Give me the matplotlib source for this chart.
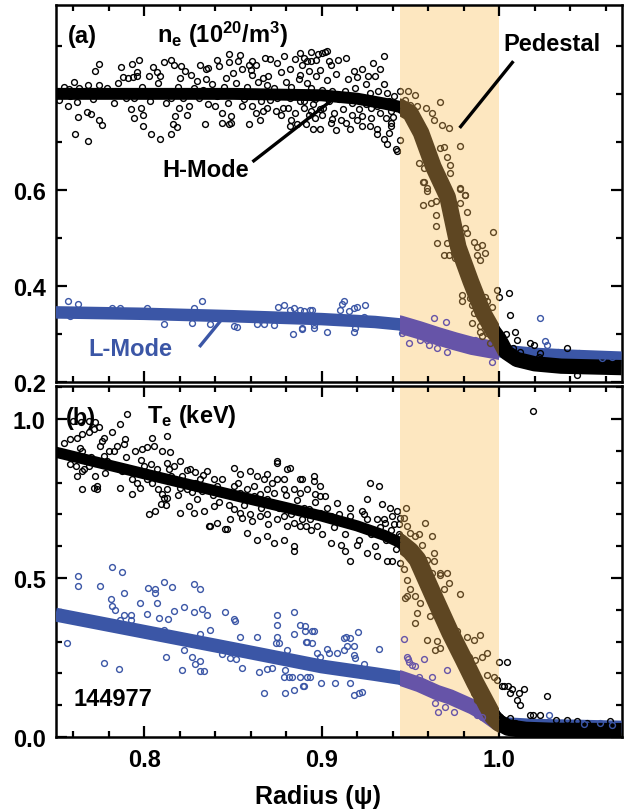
import matplotlib
matplotlib.use("Agg")
import matplotlib.pyplot as plt
from matplotlib.patches import Rectangle
from matplotlib.ticker import FixedLocator, MultipleLocator, FormatStrFormatter
import numpy as np

plt.rcParams['font.family'] = ['Liberation Sans', 'DejaVu Sans']
plt.rcParams['font.weight'] = 'bold'
plt.rcParams['font.size'] = 17
plt.rcParams['mathtext.fontset'] = 'custom'
plt.rcParams['mathtext.rm'] = 'Liberation Sans:bold'
plt.rcParams['mathtext.it'] = 'Liberation Sans:bold'
plt.rcParams['mathtext.bf'] = 'Liberation Sans:bold'

BLACK, BLUE = '#000000', '#3b56a6'
BROWN, PURPLE = '#5e4622', '#6654a8'
BAND = '#fde7c0'
PED_LO, PED_HI = 0.944, 1.0
XLIM = (0.75, 1.069)

# ---- fitted profiles (thick curves) ----
ne_h_fit_x = [0.75, 0.80, 0.85, 0.90, 0.92, 0.935, 0.944, 0.950, 0.956, 0.963, 0.971,
              0.977, 0.984, 0.991, 0.997, 1.000, 1.004, 1.010, 1.020, 1.035, 1.069]
ne_h_fit_y = [0.800, 0.800, 0.800, 0.797, 0.790, 0.780, 0.773, 0.760, 0.719, 0.648, 0.585,
              0.481, 0.410, 0.344, 0.305, 0.290, 0.262, 0.247, 0.238, 0.233, 0.230]

ne_l_fit_x = [0.75, 0.80, 0.85, 0.90, 0.93, 0.944, 0.955, 0.965, 0.975, 0.985, 1.000, 1.02, 1.04, 1.069]
ne_l_fit_y = [0.345, 0.342, 0.337, 0.331, 0.325, 0.320, 0.308, 0.296, 0.285, 0.275, 0.265, 0.258, 0.254, 0.250]

te_h_fit_x = [0.75, 0.80, 0.85, 0.90, 0.92, 0.935, 0.944, 0.950, 0.954, 0.963, 0.9725,
              0.980, 0.9866, 0.9968, 1.000, 1.005, 1.015, 1.030, 1.069]
te_h_fit_y = [0.896, 0.828, 0.761, 0.695, 0.664, 0.635, 0.612, 0.585, 0.558, 0.445, 0.328,
              0.245, 0.170, 0.063, 0.045, 0.030, 0.022, 0.019, 0.018]

te_l_fit_x = [0.75, 0.80, 0.85, 0.90, 0.93, 0.944, 0.955, 0.965, 0.9725, 0.985, 0.991, 0.999, 1.019, 1.069]
te_l_fit_y = [0.385, 0.331, 0.277, 0.222, 0.198, 0.186, 0.165, 0.140, 0.126, 0.095, 0.076, 0.044, 0.038, 0.032]

# ---- measured points (hollow circles) ----
ne_h_pts = [
    (0.7546, 0.815), (0.7575, 0.810), (0.7630, 0.812), (0.7685, 0.818), (0.7744, 0.818),
    (0.7602, 0.824), (0.7744, 0.862), (0.7725, 0.847), (0.7520, 0.788), (0.7570, 0.775),
    (0.7620, 0.783), (0.7625, 0.752), (0.7680, 0.762), (0.7700, 0.758), (0.7745, 0.745),
    (0.7760, 0.735), (0.7610, 0.717), (0.7685, 0.702), (0.7870, 0.855), (0.7930, 0.862),
    (0.7960, 0.845), (0.7970, 0.870), (0.7880, 0.835), (0.7910, 0.832), (0.7935, 0.835),
    (0.7960, 0.838), (0.7900, 0.792), (0.7940, 0.792), (0.7925, 0.768), (0.7980, 0.771),
    (0.7995, 0.757), (0.7940, 0.750), (0.7995, 0.733), (0.8040, 0.716), (0.8090, 0.705),
    (0.8150, 0.716), (0.8050, 0.855), (0.8070, 0.845), (0.8090, 0.838), (0.8025, 0.838),
    (0.8110, 0.866), (0.8150, 0.870), (0.8170, 0.861), (0.8210, 0.858), (0.8230, 0.847),
    (0.8200, 0.834), (0.8265, 0.840), (0.8300, 0.826), (0.8350, 0.830), (0.8350, 0.851),
    (0.8315, 0.860), (0.8360, 0.854), (0.8420, 0.858), (0.8150, 0.792), (0.8195, 0.771),
    (0.8250, 0.775), (0.8310, 0.792), (0.8360, 0.778), (0.8175, 0.754), (0.8240, 0.757),
    (0.8165, 0.737), (0.8185, 0.730), (0.8340, 0.737), (0.8400, 0.774), (0.8440, 0.760),
    (0.8490, 0.753), (0.8480, 0.737), (0.8440, 0.740), (0.8490, 0.740), (0.8480, 0.884),
    (0.8540, 0.880), (0.8480, 0.866), (0.8550, 0.852), (0.8590, 0.861), (0.8500, 0.844),
    (0.8460, 0.833), (0.8590, 0.737), (0.8630, 0.760), (0.8670, 0.764), (0.8550, 0.774),
    (0.8610, 0.774), (0.8610, 0.869), (0.8630, 0.861), (0.8680, 0.875), (0.8710, 0.872),
    (0.8750, 0.865), (0.8610, 0.840), (0.8670, 0.833), (0.8690, 0.819), (0.8710, 0.788),
    (0.8750, 0.792), (0.8690, 0.771), (0.8740, 0.764), (0.8780, 0.771), (0.8810, 0.771),
    (0.8820, 0.733), (0.8860, 0.737), (0.8910, 0.737), (0.8790, 0.878), (0.8850, 0.872),
    (0.8900, 0.875), (0.8890, 0.861), (0.8940, 0.868), (0.8980, 0.882), (0.9020, 0.888),
    (0.8820, 0.851), (0.8880, 0.840), (0.8930, 0.847), (0.8970, 0.837), (0.8820, 0.792),
    (0.8880, 0.785), (0.8900, 0.771), (0.8940, 0.764), (0.8990, 0.768), (0.8990, 0.726),
    (0.8930, 0.757), (0.8960, 0.750), (0.9000, 0.757), (0.8880, 0.885), (0.8940, 0.887),
    (0.9000, 0.885), (0.9030, 0.890), (0.8920, 0.868), (0.8970, 0.871), (0.9050, 0.861),
    (0.9090, 0.871), (0.9140, 0.875), (0.9180, 0.847), (0.9230, 0.851), (0.9260, 0.837),
    (0.9290, 0.865), (0.9330, 0.851), (0.9350, 0.878), (0.8940, 0.813), (0.9000, 0.809),
    (0.9060, 0.806), (0.9130, 0.806), (0.9190, 0.813), (0.8900, 0.785), (0.8950, 0.778),
    (0.9010, 0.771), (0.9070, 0.761), (0.9120, 0.768), (0.9170, 0.757), (0.9230, 0.754),
    (0.9280, 0.771), (0.8950, 0.726), (0.9050, 0.740), (0.9060, 0.747), (0.9160, 0.726),
    (0.9230, 0.733), (0.9270, 0.733), (0.9310, 0.726), (0.9310, 0.716), (0.9350, 0.706),
    (0.9380, 0.719), (0.9390, 0.733), (0.9370, 0.695), (0.9420, 0.685), (0.9390, 0.764),
    (0.9420, 0.771), (0.9360, 0.750), (0.9390, 0.740), (0.9320, 0.806), (0.9370, 0.802),
    (0.9270, 0.802), (0.9250, 0.778), (0.9270, 0.785), (0.9310, 0.774),
    (0.7580, 0.795), (0.7650, 0.805), (0.7710, 0.790), (0.7790, 0.812), (0.7830, 0.780),
    (0.7850, 0.822), (0.7990, 0.815), (0.8030, 0.785), (0.8080, 0.822), (0.8120, 0.780),
    (0.8190, 0.815), (0.8220, 0.792), (0.8280, 0.812), (0.8330, 0.808), (0.8380, 0.820),
    (0.8410, 0.795), (0.8450, 0.815), (0.8470, 0.780), (0.8520, 0.822), (0.8560, 0.790),
    (0.8580, 0.815), (0.8640, 0.825), (0.8660, 0.785), (0.8700, 0.838), (0.8730, 0.812),
    (0.8770, 0.845), (0.8800, 0.825), (0.8830, 0.815), (0.8850, 0.760), (0.8870, 0.830),
    (0.8920, 0.822), (0.8960, 0.790), (0.8990, 0.850), (0.9030, 0.828), (0.9040, 0.785),
    (0.9080, 0.842), (0.9100, 0.790), (0.9110, 0.745), (0.9150, 0.830), (0.9170, 0.780),
    (0.9200, 0.835), (0.9210, 0.768), (0.9250, 0.820), (0.9280, 0.750), (0.9300, 0.838),
    (0.9330, 0.760), (0.9350, 0.820), (0.9380, 0.785), (0.9400, 0.752), (0.9410, 0.795),
    (0.8410, 0.870), (0.8530, 0.868), (0.8600, 0.850), (0.8650, 0.745), (0.8770, 0.755),
    (0.8830, 0.745), (0.9080, 0.725), (0.9140, 0.740), (0.9200, 0.745), (0.9040, 0.868),
    # pedestal
    (0.9444, 0.805), (0.9485, 0.805), (0.9528, 0.798), (0.9472, 0.788), (0.9500, 0.777),
    (0.9538, 0.775), (0.9590, 0.770), (0.9622, 0.761), (0.9631, 0.746), (0.9669, 0.784),
    (0.9678, 0.735), (0.9716, 0.728), (0.9782, 0.692), (0.9690, 0.690), (0.9669, 0.687),
    (0.9547, 0.656), (0.9575, 0.645), (0.9706, 0.669), (0.9725, 0.652), (0.9725, 0.635),
    (0.9575, 0.617), (0.9592, 0.598), (0.9778, 0.602), (0.9806, 0.590), (0.9444, 0.704),
    (0.9427, 0.680), (0.9573, 0.617), (0.9592, 0.604), (0.9570, 0.569), (0.9617, 0.572),
    (0.9645, 0.576), (0.9782, 0.604), (0.9810, 0.590), (0.9782, 0.572), (0.9820, 0.555),
    (0.9645, 0.548), (0.9645, 0.524), (0.9648, 0.489), (0.9706, 0.489), (0.9687, 0.465),
    (0.9716, 0.465), (0.9744, 0.468), (0.9754, 0.458), (0.9810, 0.520), (0.9820, 0.510),
    (0.9856, 0.492), (0.9875, 0.482), (0.9903, 0.485), (0.9875, 0.465), (0.9894, 0.454),
    (0.9922, 0.468), (0.9968, 0.513), (0.9791, 0.381), (0.9791, 0.368), (0.9838, 0.375),
    (0.9848, 0.360), (0.9857, 0.343), (0.9923, 0.378), (0.9932, 0.368), (0.9960, 0.357),
    (0.9988, 0.392), (0.9997, 0.378), (0.9932, 0.302), (0.9950, 0.281), (0.9848, 0.323),
    (0.9894, 0.316), (0.9894, 0.305), (0.9903, 0.295), (0.9530, 0.735), (0.9600, 0.690),
    (0.9660, 0.610), (0.9720, 0.560), (0.9760, 0.500), (0.9790, 0.440), (0.9830, 0.420),
    # edge
    (1.0054, 0.385), (1.0063, 0.340), (1.0092, 0.305), (1.0101, 0.288), (1.0176, 0.281),
    (1.0195, 0.277), (1.0383, 0.270), (1.0439, 0.215), (1.0232, 0.260), (1.0223, 0.253),
    (1.0040, 0.300), (1.0080, 0.270), (1.0120, 0.262),
]

ne_l_pts = [
    (0.7572, 0.369), (0.7627, 0.362), (0.8326, 0.369), (0.8279, 0.354), (0.8110, 0.321),
    (0.8373, 0.321), (0.8505, 0.316), (0.8523, 0.314), (0.8753, 0.356), (0.8786, 0.360),
    (0.8824, 0.350), (0.8843, 0.354), (0.8880, 0.350), (0.8946, 0.350), (0.8839, 0.300),
    (0.8890, 0.310), (0.8955, 0.319), (0.7866, 0.354), (0.7819, 0.354), (0.8016, 0.354),
    (0.8270, 0.323), (0.8636, 0.321), (0.8674, 0.321), (0.8730, 0.319), (0.7520, 0.344),
    (0.7580, 0.337), (0.8899, 0.348), (0.8936, 0.350), (0.8890, 0.312), (0.8955, 0.312),
    (0.9031, 0.305), (0.9115, 0.362), (0.9124, 0.368), (0.9105, 0.350), (0.9153, 0.347),
    (0.9181, 0.354), (0.9200, 0.357), (0.9243, 0.360), (0.9190, 0.312), (0.9181, 0.305),
    (0.9237, 0.335),
    (0.9453, 0.302), (0.9491, 0.281), (0.9557, 0.288), (0.9603, 0.277), (0.9594, 0.288),
    (0.9631, 0.334), (0.9703, 0.324), (0.9707, 0.263), (0.9650, 0.270), (0.9866, 0.288),
    (0.9960, 0.242),
    (1.0232, 0.334), (1.0260, 0.286), (1.0269, 0.277), (1.0448, 0.260), (1.0580, 0.250),
    (1.0636, 0.253), (1.0330, 0.262),
]

te_h_pts = [
    (0.7547, 0.926), (0.7584, 0.937), (0.7622, 0.942), (0.7650, 0.953), (0.7688, 0.958),
    (0.7716, 0.968), (0.7744, 0.974), (0.7641, 0.990), (0.7688, 0.995), (0.7725, 0.990),
    (0.7600, 0.993), (0.7566, 0.890), (0.7622, 0.879), (0.7650, 0.900), (0.7660, 0.842),
    (0.7688, 0.853), (0.7725, 0.863), (0.7622, 0.821), (0.7650, 0.837), (0.7613, 0.853),
    (0.7725, 0.821), (0.7735, 0.790), (0.7716, 0.784), (0.7650, 0.779), (0.7735, 0.779),
    (0.7763, 0.932), (0.7772, 0.942), (0.7819, 0.958), (0.7866, 0.984), (0.7904, 1.016),
    (0.7894, 0.937), (0.7885, 0.921), (0.7847, 0.916), (0.7800, 0.900), (0.7753, 0.916),
    (0.7772, 0.884), (0.7791, 0.869), (0.7838, 0.853), (0.7866, 0.842), (0.7904, 0.847),
    (0.7941, 0.832), (0.7932, 0.811), (0.7960, 0.800), (0.7866, 0.784), (0.7875, 0.837),
    (0.7932, 0.763), (0.7979, 0.784), (0.8016, 0.811), (0.8045, 0.800), (0.7950, 0.900),
    (0.7988, 0.905), (0.8016, 0.911), (0.8045, 0.942), (0.8054, 0.916), (0.8101, 0.900),
    (0.8129, 0.947), (0.8148, 0.895), (0.7997, 0.853), (0.8073, 0.842), (0.8073, 0.816),
    (0.8092, 0.811), (0.8129, 0.863), (0.8138, 0.842), (0.8026, 0.700), (0.8063, 0.711),
    (0.8092, 0.732), (0.8110, 0.753), (0.8129, 0.753), (0.8101, 0.763), (0.8129, 0.779),
    (0.8166, 0.853), (0.8204, 0.869), (0.8214, 0.821), (0.8260, 0.842), (0.8289, 0.832),
    (0.8317, 0.811), (0.8354, 0.837), (0.8392, 0.811), (0.8204, 0.784), (0.8242, 0.779),
    (0.8289, 0.800), (0.8326, 0.774), (0.8364, 0.779), (0.8411, 0.790), (0.8204, 0.706),
    (0.8251, 0.726), (0.8279, 0.706), (0.8336, 0.711), (0.8392, 0.726), (0.8373, 0.663),
    (0.8411, 0.674), (0.8458, 0.653), (0.8486, 0.685), (0.8505, 0.847), (0.8542, 0.826),
    (0.8598, 0.837), (0.8636, 0.821), (0.8674, 0.811), (0.8692, 0.826), (0.8749, 0.863),
    (0.8805, 0.842), (0.8749, 0.811), (0.8786, 0.811), (0.8505, 0.790), (0.8542, 0.768),
    (0.8580, 0.779), (0.8617, 0.758), (0.8655, 0.763), (0.8692, 0.779), (0.8730, 0.768),
    (0.8786, 0.779), (0.8843, 0.779), (0.8880, 0.768), (0.8918, 0.779), (0.8955, 0.805),
    (0.8505, 0.716), (0.8542, 0.706), (0.8598, 0.700), (0.8655, 0.695), (0.8692, 0.700),
    (0.8749, 0.685), (0.8786, 0.695), (0.8805, 0.663), (0.8843, 0.674), (0.8880, 0.663),
    (0.8937, 0.685), (0.8974, 0.663), (0.8580, 0.642), (0.8636, 0.621), (0.8692, 0.632),
    (0.8730, 0.611), (0.8786, 0.621), (0.8843, 0.600), (0.8843, 0.585), (0.8467, 0.653),
    (0.8364, 0.663), (0.8749, 0.869), (0.8824, 0.847), (0.8880, 0.811), (0.8955, 0.821),
    (0.8890, 0.811), (0.8993, 0.789), (0.9021, 0.758), (0.8990, 0.758), (0.8960, 0.763),
    (0.8930, 0.716), (0.8890, 0.685), (0.8910, 0.663), (0.8993, 0.706), (0.9050, 0.695),
    (0.9087, 0.737), (0.9162, 0.721), (0.9162, 0.695), (0.9228, 0.711), (0.9256, 0.748),
    (0.9275, 0.800), (0.9322, 0.789), (0.9340, 0.732), (0.9387, 0.721), (0.9425, 0.711),
    (0.9397, 0.695), (0.9350, 0.685), (0.9312, 0.685), (0.9256, 0.685), (0.9050, 0.611),
    (0.9162, 0.553), (0.9110, 0.605), (0.9130, 0.585), (0.9200, 0.605), (0.9256, 0.579),
    (0.9312, 0.569), (0.9368, 0.553), (0.9397, 0.553), (0.9359, 0.674), (0.9406, 0.669),
    (0.9434, 0.669), (0.9425, 0.621), (0.9434, 0.637),
    (0.7580, 0.860), (0.7640, 0.910), (0.7700, 0.880), (0.7780, 0.830), (0.7830, 0.900),
    (0.7900, 0.880), (0.7980, 0.870), (0.8040, 0.860), (0.8080, 0.780), (0.8150, 0.820),
    (0.8190, 0.760), (0.8240, 0.840), (0.8300, 0.750), (0.8330, 0.825), (0.8390, 0.760),
    (0.8420, 0.740), (0.8440, 0.810), (0.8480, 0.730), (0.8530, 0.800), (0.8560, 0.730),
    (0.8620, 0.790), (0.8660, 0.720), (0.8690, 0.750), (0.8720, 0.800), (0.8760, 0.720),
    (0.8800, 0.760), (0.8830, 0.700), (0.8860, 0.745), (0.8900, 0.720), (0.8940, 0.650),
    (0.8960, 0.740), (0.9000, 0.640), (0.9030, 0.720), (0.9070, 0.660), (0.9100, 0.700),
    (0.9130, 0.640), (0.9180, 0.670), (0.9210, 0.620), (0.9240, 0.700), (0.9280, 0.640),
    (0.9300, 0.600), (0.9330, 0.660), (0.9360, 0.620), (0.9390, 0.650), (0.9420, 0.590),
    (0.9440, 0.690), (0.8610, 0.680), (0.8700, 0.670), (0.8550, 0.690), (0.8270, 0.770),
    (0.8120, 0.730),
    # pedestal
    (0.9478, 0.721), (0.9463, 0.690), (0.9481, 0.663), (0.9500, 0.642), (0.9528, 0.632),
    (0.9547, 0.637), (0.9584, 0.674), (0.9566, 0.605), (0.9622, 0.632), (0.9631, 0.579),
    (0.9594, 0.558), (0.9631, 0.553), (0.9669, 0.516), (0.9706, 0.516), (0.9444, 0.632),
    (0.9444, 0.548), (0.9463, 0.527), (0.9481, 0.495), (0.9500, 0.464), (0.9528, 0.443),
    (0.9556, 0.422), (0.9584, 0.474), (0.9622, 0.516), (0.9669, 0.511), (0.9716, 0.485),
    (0.9688, 0.464), (0.9778, 0.450), (0.9631, 0.422), (0.9481, 0.443), (0.9470, 0.437),
    (0.9538, 0.390), (0.9528, 0.359), (0.9613, 0.380), (0.9594, 0.306), (0.9650, 0.301),
    (0.9669, 0.280), (0.9641, 0.274), (0.9706, 0.327), (0.9763, 0.332), (0.9782, 0.295),
    (0.9819, 0.316), (0.9857, 0.306), (0.9894, 0.322), (0.9829, 0.253), (0.9866, 0.243),
    (0.9904, 0.253), (0.9932, 0.264), (0.9819, 0.222), (0.9857, 0.201), (0.9885, 0.169),
    (0.9932, 0.195), (0.9969, 0.190), (0.9997, 0.237), (0.9988, 0.180), (0.9857, 0.138),
    (0.9875, 0.117), (0.9904, 0.096), (0.9932, 0.074), (0.9950, 0.064),
    # edge
    (1.0006, 0.064), (1.0016, 0.159), (1.0044, 0.237), (1.0030, 0.160), (1.0050, 0.160),
    (1.0072, 0.150), (1.0063, 0.138), (1.0110, 0.138), (1.0138, 0.150), (1.0100, 0.117),
    (1.0120, 0.100), (1.0190, 0.070), (1.0232, 0.070), (1.0176, 0.070), (1.0269, 0.128),
    (1.0320, 0.055), (1.0383, 0.055), (1.0439, 0.050), (1.0627, 0.050), (1.0495, 0.045),
    (1.0063, 0.060), (1.0090, 0.045), (1.0190, 1.025),
]

te_l_pts = [
    (0.7628, 0.506), (0.7628, 0.474), (0.7566, 0.296), (0.7753, 0.474), (0.7819, 0.535),
    (0.7875, 0.520), (0.7885, 0.453), (0.7810, 0.434), (0.7819, 0.411), (0.7838, 0.401),
    (0.7885, 0.385), (0.7925, 0.385), (0.7866, 0.369), (0.7925, 0.369), (0.7772, 0.232),
    (0.7857, 0.214), (0.7979, 0.422), (0.8020, 0.469), (0.8063, 0.464), (0.8063, 0.453),
    (0.8073, 0.422), (0.8110, 0.487), (0.8157, 0.472), (0.8016, 0.387), (0.8086, 0.374),
    (0.8135, 0.371), (0.8114, 0.338), (0.8125, 0.253), (0.8170, 0.395), (0.8222, 0.409),
    (0.8279, 0.482), (0.8317, 0.464), (0.8279, 0.393), (0.8326, 0.404), (0.8354, 0.385),
    (0.8317, 0.325), (0.8373, 0.338), (0.8222, 0.274), (0.8270, 0.253), (0.8289, 0.229),
    (0.8317, 0.240), (0.8317, 0.208), (0.8336, 0.208), (0.8214, 0.211), (0.8458, 0.393),
    (0.8505, 0.371), (0.8514, 0.366), (0.8542, 0.314), (0.8439, 0.262), (0.8486, 0.248),
    (0.8518, 0.245), (0.8552, 0.216), (0.8636, 0.316), (0.8645, 0.206), (0.8674, 0.138),
    (0.8692, 0.214), (0.8720, 0.216), (0.8749, 0.385), (0.8749, 0.353), (0.8749, 0.316),
    (0.8740, 0.295), (0.8758, 0.295), (0.8805, 0.274), (0.8796, 0.211), (0.8792, 0.138),
    (0.8843, 0.393), (0.8843, 0.325), (0.8843, 0.148), (0.8833, 0.190), (0.8815, 0.190),
    (0.8880, 0.351), (0.8905, 0.348), (0.8905, 0.332), (0.8948, 0.332), (0.8918, 0.298),
    (0.8946, 0.295), (0.8974, 0.264), (0.8896, 0.161), (0.8937, 0.190), (0.8786, 0.190),
    (0.8955, 0.332), (0.8914, 0.298), (0.8880, 0.190), (0.8918, 0.188), (0.8903, 0.161),
    (0.8993, 0.253), (0.8999, 0.169), (0.9031, 0.276), (0.9040, 0.264), (0.9078, 0.169),
    (0.9087, 0.264), (0.9124, 0.274), (0.9143, 0.287), (0.9124, 0.311), (0.9139, 0.316),
    (0.9158, 0.313), (0.9205, 0.329), (0.9181, 0.259), (0.9190, 0.248), (0.9181, 0.287),
    (0.9237, 0.229), (0.9181, 0.132), (0.9209, 0.138), (0.9228, 0.143), (0.9162, 0.171),
    (0.9322, 0.276),
    (0.9463, 0.309), (0.9481, 0.253), (0.9487, 0.245), (0.9491, 0.237), (0.9510, 0.227),
    (0.9528, 0.222), (0.9575, 0.246), (0.9547, 0.190), (0.9622, 0.190), (0.9706, 0.211),
    (0.9641, 0.108), (0.9654, 0.080), (0.9693, 0.096), (0.9744, 0.080), (0.9875, 0.069),
    (0.9904, 0.064),
    (1.0279, 0.069), (1.0476, 0.040), (1.0570, 0.043), (1.0636, 0.038),
]


def clip_rects(ax):
    tr = ax.get_xaxis_transform()
    x0, x1 = ax.get_xlim()
    return {
        'core': Rectangle((x0, 0), PED_LO - x0, 1, transform=tr),
        'ped': Rectangle((PED_LO, 0), PED_HI - PED_LO, 1, transform=tr),
        'edge': Rectangle((PED_HI, 0), x1 - PED_HI, 1, transform=tr),
    }


def draw_fit(ax, x, y, color, ped_color, widths, z):
    clips = clip_rects(ax)
    for key, c, lw in (('core', color, widths[0]), ('ped', ped_color, widths[1]),
                       ('edge', color, widths[2])):
        ln, = ax.plot(x, y, color=c, lw=lw, solid_capstyle='butt',
                      solid_joinstyle='round', zorder=z)
        ln.set_clip_path(clips[key])


def draw_points(ax, pts, color, ped_color, z):
    px, py = np.array(pts).T
    clips = clip_rects(ax)
    for key, c in (('core', color), ('ped', ped_color), ('edge', color)):
        mk, = ax.plot(px, py, 'o', ls='none', ms=4.2, mfc='none', mec=c, mew=1.0, zorder=z)
        mk.set_clip_path(clips[key])


fig = plt.figure(figsize=(6.25, 8.12), dpi=100)
ax1 = fig.add_axes([0.0888, 0.5283, 0.9056, 0.4643])
ax2 = fig.add_axes([0.0888, 0.0911, 0.9056, 0.4323])

for ax in (ax1, ax2):
    ax.set_xlim(*XLIM)
    ax.axvspan(PED_LO, PED_HI, color=BAND, lw=0, zorder=0)
    ax.xaxis.set_major_locator(MultipleLocator(0.1))
    ax.xaxis.set_minor_locator(MultipleLocator(0.02))
    ax.tick_params(which='both', direction='in', top=True, right=True, width=1.6)
    ax.tick_params(which='major', length=8, pad=7)
    ax.tick_params(which='minor', length=4.5)
    for s in ax.spines.values():
        s.set_linewidth(1.8)

# (a) density
ax1.set_ylim(0.2, 0.985)
ax1.yaxis.set_major_locator(FixedLocator([0.2, 0.4, 0.6]))
ax1.yaxis.set_minor_locator(FixedLocator([0.3, 0.5, 0.7, 0.8, 0.9]))
ax1.yaxis.set_major_formatter(FormatStrFormatter('%.1f'))
ax1.tick_params(labelbottom=False)

draw_fit(ax1, ne_l_fit_x, ne_l_fit_y, BLUE, PURPLE, (9.0, 13.0, 9.5), 3)
draw_fit(ax1, ne_h_fit_x, ne_h_fit_y, BLACK, BROWN, (8.6, 12.0, 11.0), 4)
draw_points(ax1, ne_h_pts, BLACK, BROWN, 5)
draw_points(ax1, ne_l_pts, BLUE, PURPLE, 6)

ax1.text(0.021, 0.902, '(a)', transform=ax1.transAxes, ha='left', va='baseline')
ax1.text(0.180, 0.902, r'n$_{\rm e}$ (10$^{20}$/m$^{3}$)', transform=ax1.transAxes,
         ha='left', va='baseline')
ax1.text(0.265, 0.565, 'H-Mode', transform=ax1.transAxes, ha='center', va='center')
ax1.plot([0.348, 0.486], [0.584, 0.745], transform=ax1.transAxes, color=BLACK, lw=2.4,
         solid_capstyle='butt', zorder=7)
ax1.text(0.877, 0.897, 'Pedestal', transform=ax1.transAxes, ha='center', va='center')
ax1.plot([0.809, 0.714], [0.851, 0.674], transform=ax1.transAxes, color=BLACK, lw=2.4,
         solid_capstyle='butt', zorder=7)
ax1.text(0.1325, 0.090, 'L-Mode', transform=ax1.transAxes, ha='center', va='center',
         color=BLUE)
ax1.plot([0.254, 0.2915], [0.093, 0.162], transform=ax1.transAxes, color=BLUE, lw=2.4,
         solid_capstyle='butt', zorder=7)

# (b) temperature
ax2.set_ylim(0.0, 1.104)
ax2.yaxis.set_major_locator(FixedLocator([0.0, 0.5, 1.0]))
ax2.yaxis.set_minor_locator(MultipleLocator(0.1))
ax2.yaxis.set_major_formatter(FormatStrFormatter('%.1f'))
ax2.tick_params(axis='x', which='major', pad=8)

draw_fit(ax2, te_l_fit_x, te_l_fit_y, BLUE, PURPLE, (10.0, 11.0, 9.0), 3)
draw_fit(ax2, te_h_fit_x, te_h_fit_y, BLACK, BROWN, (8.0, 13.0, 12.0), 4)
draw_points(ax2, te_h_pts, BLACK, BROWN, 5)
draw_points(ax2, te_l_pts, BLUE, PURPLE, 6)

ax2.text(0.018, 0.892, '(b)', transform=ax2.transAxes, ha='left', va='baseline')
ax2.text(0.1625, 0.897, r'T$_{\rm e}$ (keV)', transform=ax2.transAxes,
         ha='left', va='baseline')
ax2.text(0.032, 0.111, '144977', transform=ax2.transAxes, ha='left', va='center')

fig.text(318 / 625, 1 - 804 / 812, 'Radius (ψ)', ha='center', va='baseline', fontsize=18)

fig.savefig('out.png', dpi=100)
